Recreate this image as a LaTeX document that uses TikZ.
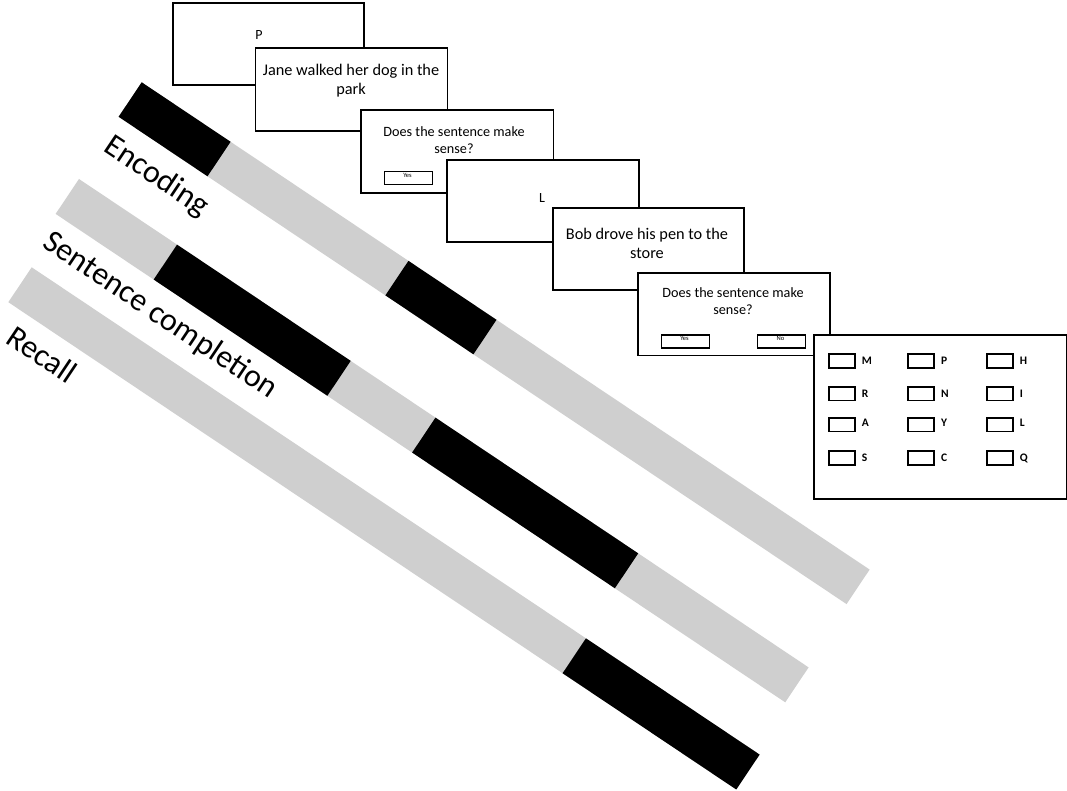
\documentclass[tikz,border=0pt]{standalone}
\usepackage{fontspec}
\setmainfont{Carlito}
\definecolor{barcol}{RGB}{207,207,207}
\begin{document}
\begin{tikzpicture}[x=1pt,y=-1pt,
  barg/.style={fill=barcol},
  barb/.style={fill=black},
  scr/.style={draw=black, line width=1.7pt, fill=white, inner sep=0pt, anchor=north west},
  btn/.style={draw=black, line width=1.5pt, fill=white, minimum width=48pt, minimum height=13pt, inner sep=0pt, anchor=north west},
  chk/.style={draw=black, line width=1.7pt, minimum width=26pt, minimum height=13.5pt, inner sep=0pt, anchor=north west},
  lab/.style={font=\fontsize{32}{38}\selectfont, rotate=-33.8, anchor=base west, inner sep=0pt},
  sent/.style={font=\fontsize{16.3}{19.5}\selectfont, align=center, inner sep=0pt},
  ques/.style={font=\fontsize{14.2}{17}\selectfont, align=center, inner sep=0pt},
  ltr/.style={font=\fontsize{14}{17}\selectfont, inner sep=0pt},
  btntxt/.style={font=\fontsize{6.5}{7}\selectfont, inner sep=0pt},
  grl/.style={font=\bfseries\fontsize{11.5}{13}\selectfont, inner sep=0pt, anchor=base west}]
\fill[white] (0,0) rectangle (1067,791);
\useasboundingbox (0,0) rectangle (1067,791);

% Encoding bar
\begin{scope}[shift={(141.7,82.3)}, rotate=-33.8]
  \fill[barg] (0,0) rectangle (876,41.5);
  \fill[barb] (0,0) rectangle (107,41.5);
  \fill[barb] (321,0) rectangle (427,41.5);
  \node[lab] (encl) at (5,79) {Encoding};
\end{scope}
% Sentence completion bar
\begin{scope}[shift={(79,179)}, rotate=-33.8]
  \fill[barg] (0,0) rectangle (878,42);
  \fill[barb] (118,0) rectangle (327,42);
  \fill[barb] (429,0) rectangle (673,42);
  \node[lab] (senl) at (6,77) {Sentence completion};
\end{scope}
% Recall bar
\begin{scope}[shift={(31.7,267.3)}, rotate=-33.8]
  \fill[barg] (0,0) rectangle (876,42);
  \fill[barb] (667,0) rectangle (876,42);
  \node[lab] (recl) at (18.5,77.5) {Recall};
\end{scope}

% screens
\node[scr, minimum width=191pt, minimum height=82pt] (b1) at (172,2) {};
\node[ltr] (t1) at (259,35) {P};
\node[scr, minimum width=192pt, minimum height=82.5pt] (b2) at (254.5,47.5) {};
\node[sent] (t2) at (351,80.5) {Jane walked her dog in the\\park};
\node[scr, minimum width=192.5pt, minimum height=83pt] (b3) at (360,109.5) {};
\node[ques] (t3) at (454,140) {Does the sentence make\\sense?};
\node[btn] (y3) at (383.5,171) {};
\node[btntxt] (y3t) at (407.5,175) {Yes};
\node[scr, minimum width=192pt, minimum height=82pt] (b4) at (446,159.5) {};
\node[ltr] (t4) at (542,198) {L};
\node[scr, minimum width=191pt, minimum height=82pt] (b5) at (552,207) {};
\node[sent] (t5) at (647,243.5) {Bob drove his pen to the\\store};
\node[scr, minimum width=192pt, minimum height=82.5pt] (b6) at (637,272) {};
\node[ques] (t6) at (733,301) {Does the sentence make\\sense?};
\node[btn] (y6) at (660.5,334) {};
\node[btntxt] (y6t) at (684.5,338.5) {Yes};
\node[btn] (n6) at (756.5,334) {};
\node[btntxt] (n6t) at (780.5,338.5) {No};

% response grid
\node[scr, minimum width=252.5pt, minimum height=164pt] (b7) at (813,334) {};
\foreach \r/\yy in {1/353.3, 2/386, 3/417, 4/450.3} {
  \foreach \c/\xx in {1/828, 2/907.3, 3/986} {
    \node[chk] (c\r\c) at (\xx,\yy) {};
  }
}
\node[grl] (l11) at ([xshift=6pt,yshift=-3.5pt]c11.east) {M};
\node[grl] (l12) at ([xshift=6pt,yshift=-3.5pt]c12.east) {P};
\node[grl] (l13) at ([xshift=6pt,yshift=-3.5pt]c13.east) {H};
\node[grl] (l21) at ([xshift=6pt,yshift=-3.5pt]c21.east) {R};
\node[grl] (l22) at ([xshift=6pt,yshift=-3.5pt]c22.east) {N};
\node[grl] (l23) at ([xshift=6pt,yshift=-3.5pt]c23.east) {I};
\node[grl] (l31) at ([xshift=6pt,yshift=-2pt]c31.east) {A};
\node[grl] (l32) at ([xshift=6pt,yshift=-2pt]c32.east) {Y};
\node[grl] (l33) at ([xshift=6pt,yshift=-2pt]c33.east) {L};
\node[grl] (l41) at ([xshift=6pt,yshift=-3.5pt]c41.east) {S};
\node[grl] (l42) at ([xshift=6pt,yshift=-3.5pt]c42.east) {C};
\node[grl] (l43) at ([xshift=6pt,yshift=-3.5pt]c43.east) {Q};
\end{tikzpicture}
\end{document}
